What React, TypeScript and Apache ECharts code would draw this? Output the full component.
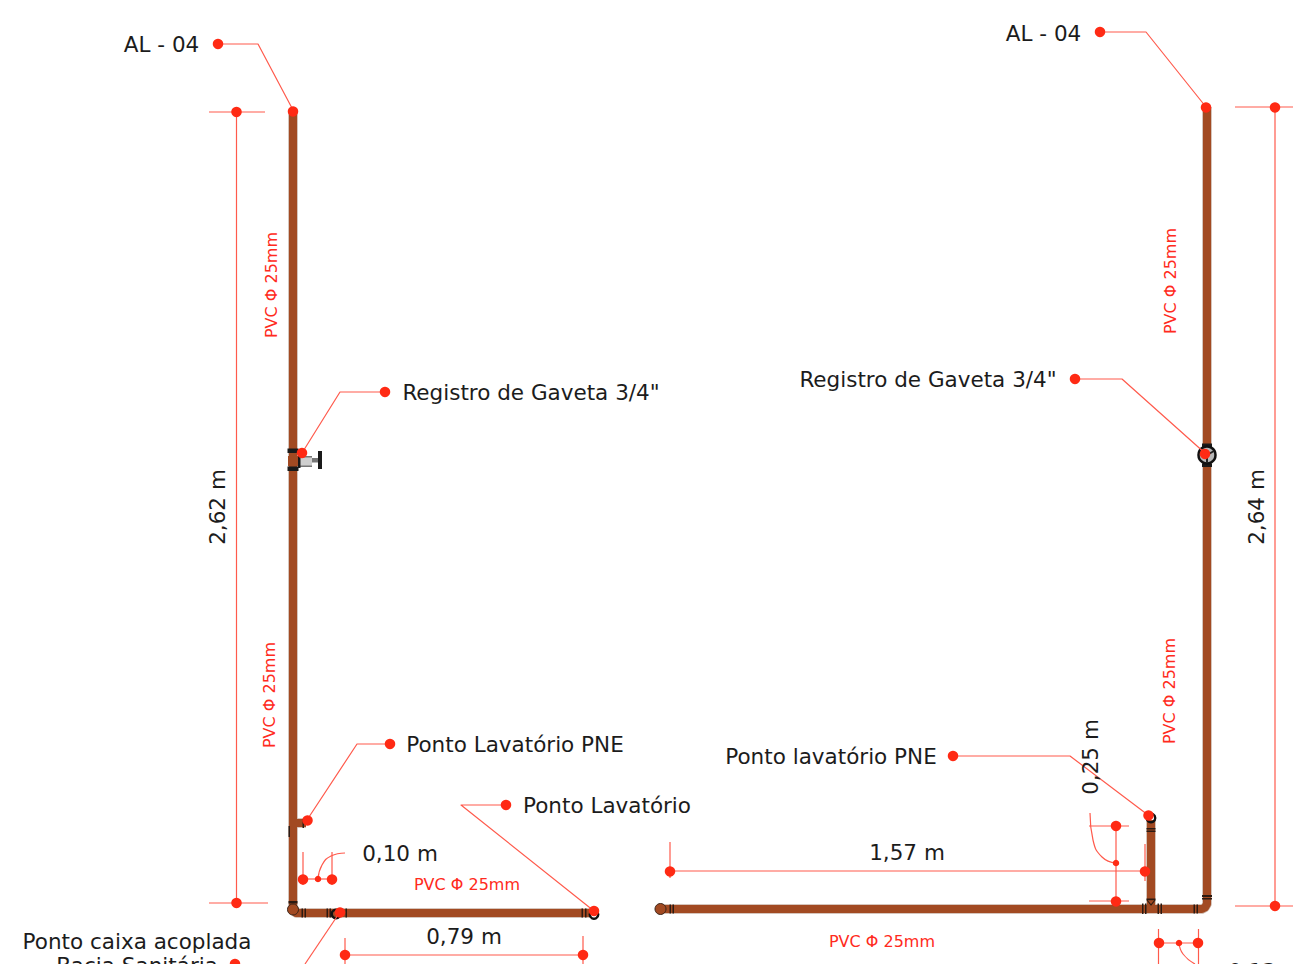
import React, { useEffect, useRef } from "react";
import * as echarts from "echarts";

const WIDTH = 1293;
const HEIGHT = 964;

type P = [number, number];

const pipes: P[][] = [
  [[293, 112], [293, 910], [296, 913], [590, 913]],
  [[293, 823], [306, 823]],
  [[663, 909], [1202, 909], [1205, 907.5], [1207, 904], [1207, 107]],
  [[1151, 909], [1151, 820]],
];

const fittings: number[][] = [
  [288.5, 901, 297.5, 903.5],
  [301.5, 908.5, 303, 917.5],
  [304.5, 908.5, 306, 917.5],
  [326.5, 908.5, 328, 917.5],
  [329.5, 908.5, 331, 917.5],
  [345.5, 908.5, 347, 917.5],
  [581.5, 908.5, 583, 917.5],
  [585, 908.5, 586.5, 917.5],
  [288.5, 826, 290, 837],
  [302.5, 819, 304, 828],
  [669.5, 904.5, 671, 913.5],
  [672.5, 904.5, 674, 913.5],
  [1193.5, 904.5, 1195, 913.5],
  [1196.5, 904.5, 1198, 913.5],
  [1142, 903.5, 1143.5, 914],
  [1145, 903.5, 1146.5, 914],
  [1157.5, 903.5, 1159, 914],
  [1160.5, 903.5, 1162, 914],
  [1202, 895, 1212, 897],
  [1202, 898, 1212, 899.5],
  [1146.5, 828, 1155.5, 829.5],
  [1146.5, 830.5, 1155.5, 832],
  [1146.5, 898.5, 1155.5, 900.2],
];

const valveDark: number[][] = [
  [287.5, 448.5, 298.5, 453],
  [287.5, 466.5, 298.5, 471],
  [298, 456, 300.5, 468],
  [318, 451, 322, 469],
  [1202, 443.5, 1212, 447],
  [1202, 463.5, 1212, 467],
];
const valveBrown: number[][] = [[288, 456, 299, 466]];
const valveGray: number[][] = [[300, 456, 312, 467]];
const valveStem: number[][] = [
  [300, 456, 312, 457.5],
  [300, 465.5, 312, 467],
  [312, 458, 318, 462.5],
];

const smallRings: P[] = [[336, 914], [594, 914.5], [1151, 818]];
const wheelRings: P[] = [[1207, 455]];
const pipeCaps: P[] = [[660.5, 909], [293, 909.5]];
const teeMark: P[] = [[1147, 900], [1151, 905], [1155, 900]];
const wheelSpokes: P[][] = [
  [[1207, 455], [1200, 451]],
  [[1207, 455], [1214, 451]],
  [[1207, 455], [1207, 463]],
];

const leaders: P[][] = [
  [[218, 44], [258, 44], [293, 110]],
  [[385, 392], [340, 392], [302, 453]],
  [[390, 744], [357, 744], [307, 820]],
  [[506, 805], [461, 805], [594, 911]],
  [[340, 912], [305, 964]],
  [[1100, 32], [1146, 32], [1206, 107]],
  [[1075, 379], [1122, 379], [1206, 454]],
  [[953, 756], [1070, 756], [1148, 815]],
];

const dimensionLines: P[][] = [
  [[236.5, 112], [236.5, 903]],
  [[209, 112], [265, 112]],
  [[209, 903], [268, 903]],
  [[345, 955], [583, 955]],
  [[345, 938], [345, 964]],
  [[583, 936], [583, 964]],
  [[303, 879], [332, 879]],
  [[303, 852], [303, 885]],
  [[332, 852], [332, 885]],
  [[1275, 107], [1275, 906]],
  [[1235, 107], [1293, 107]],
  [[1235, 906], [1293, 906]],
  [[670, 871], [1145, 871]],
  [[670, 842], [670, 878]],
  [[1145, 844], [1145, 881]],
  [[1116, 826], [1116, 901]],
  [[1089, 826], [1129, 826]],
  [[1089, 901], [1129, 901]],
  [[1159, 943], [1198, 943]],
  [[1158.5, 929], [1158.5, 964]],
  [[1198.5, 929], [1198.5, 964]],
];

const dimensionCurves: P[][] = [
  [[318, 879], [322, 865], [331, 856], [345, 853]],
  [[1090, 813], [1093, 840], [1102, 857], [1116, 863]],
  [[1179, 943], [1183, 954], [1195, 964]],
];

const largeDots: P[] = [
  [218, 44], [293, 111.5], [385, 392], [302, 453], [390, 744], [307.5, 820.5],
  [506, 805], [594, 911], [340, 912.5], [235, 964], [1100, 32], [1206, 107.5],
  [1075, 379], [1205, 454], [953, 756], [1148.5, 815.5],
  [236.5, 112], [236.5, 903], [345, 955], [583, 955], [303, 879.5], [332, 879.5],
  [1275, 107.5], [1275, 906], [670, 871.5], [1145, 871.5], [1116, 826], [1116, 901.5],
  [1159, 943], [1198, 943],
];
const smallDots: P[] = [[318, 879], [1116, 863], [1179, 943]];

const blackLabels: [number, number, string][] = [
  [161.5, 44, "AL - 04"],
  [1043.5, 33, "AL - 04"],
  [531, 392, 'Registro de Gaveta 3/4"'],
  [928, 379, 'Registro de Gaveta 3/4"'],
  [515, 744, "Ponto Lavatório PNE"],
  [831, 756, "Ponto lavatório PNE"],
  [607, 805, "Ponto Lavatório"],
  [137, 941, "Ponto caixa acoplada"],
  [137, 965, "Bacia Sanitária"],
  [400, 853, "0,10 m"],
  [464, 936, "0,79 m"],
  [907, 852, "1,57 m"],
  [1266, 971, "0,13 m"],
];
const blackRotatedLabels: [number, number, string][] = [
  [217, 507, "2,62 m"],
  [1256, 507, "2,64 m"],
  [1090, 757, "0,25 m"],
];
const redLabels: [number, number, string][] = [
  [467, 884, "PVC Φ 25mm"],
  [882, 941, "PVC Φ 25mm"],
];
const redRotatedLabels: [number, number, string][] = [
  [271, 285, "PVC Φ 25mm"],
  [269, 695, "PVC Φ 25mm"],
  [1170, 281, "PVC Φ 25mm"],
  [1169, 691, "PVC Φ 25mm"],
];

const RED = "#ff2a14";
const LINE_RED = "#ff5a4c";
const PIPE = "#a24a22";
const FONT = "'DejaVu Sans'";

const polyline = (data: P[], color: string, width: number, z: number) => ({
  type: "line",
  data,
  symbol: "none",
  silent: true,
  z,
  clip: false,
  lineStyle: { color, width, join: "round", cap: "butt" },
});

const boxes = (data: number[][], fill: string, z: number) => ({
  type: "custom",
  data,
  silent: true,
  z,
  clip: false,
  encode: { x: [0, 2], y: [1, 3] },
  renderItem: (_: unknown, api: any) => {
    const a = api.coord([api.value(0), api.value(1)]);
    const b = api.coord([api.value(2), api.value(3)]);
    return {
      type: "rect",
      shape: { x: a[0], y: a[1], width: b[0] - a[0], height: b[1] - a[1] },
      style: { fill },
    };
  },
});

const circles = (
  data: P[],
  size: number,
  color: string,
  borderColor: string,
  borderWidth: number,
  z: number,
) => ({
  type: "scatter",
  data,
  symbolSize: size,
  silent: true,
  z,
  clip: false,
  itemStyle: { color, borderColor, borderWidth, opacity: 1 },
});

const labels = (
  data: [number, number, string][],
  color: string,
  fontSize: number,
  rotate: number,
) => ({
  type: "scatter",
  data,
  symbolSize: 0,
  silent: true,
  z: 20,
  clip: false,
  itemStyle: { opacity: 1 },
  label: {
    show: true,
    position: "inside",
    formatter: (p: any) => p.value[2],
    color,
    fontSize,
    fontFamily: FONT,
    rotate,
    align: "center",
    verticalAlign: "middle",
  },
});

export default function App() {
  const ref = useRef<HTMLDivElement>(null);

  useEffect(() => {
    const chart = echarts.init(ref.current!, undefined, { renderer: "svg" });
    chart.setOption({
      animation: false,
      backgroundColor: "#ffffff",
      grid: { left: 0, right: 0, top: 0, bottom: 0 },
      xAxis: { type: "value", min: 0, max: WIDTH, show: false },
      yAxis: { type: "value", min: 0, max: HEIGHT, inverse: true, show: false },
      series: [
        ...pipes.map((p) => polyline(p, "#c9b3a6", 9.5, 1)),
        ...pipes.map((p) => polyline(p, PIPE, 8, 2)),
        circles(pipeCaps, 11, PIPE, "#3a2418", 1, 3),
        boxes(fittings, "#2b1a12", 4),
        boxes(valveBrown, PIPE, 4),
        boxes(valveGray, "#cfcfcf", 4),
        boxes(valveStem, "#777777", 5),
        boxes(valveDark, "#1a1a1a", 5),
        circles(smallRings, 8.5, "rgba(0,0,0,0)", "#111111", 2.4, 5),
        circles(wheelRings, 17, "#b8b8b8", "#111111", 2.5, 5),
        ...wheelSpokes.map((p) => polyline(p, "#222222", 2, 6)),
        polyline(teeMark, "#2b1a12", 1.2, 6),
        ...leaders.map((p) => polyline(p, LINE_RED, 1.2, 8)),
        ...dimensionLines.map((p) => polyline(p, LINE_RED, 1.2, 8)),
        ...dimensionCurves.map((p) => ({
          ...polyline(p, LINE_RED, 1.2, 8),
          smooth: 0.5,
        })),
        circles(largeDots, 10.5, RED, RED, 0, 10),
        circles(smallDots, 6.5, RED, RED, 0, 10),
        labels(blackLabels, "#1c1c1c", 21.5, 0),
        labels(blackRotatedLabels, "#1c1c1c", 21.5, 90),
        labels(redLabels, "#ff2a20", 16, 0),
        labels(redRotatedLabels, "#ff2a20", 16, 90),
      ],
    });
    return () => chart.dispose();
  }, []);

  return (
    <div
      ref={ref}
      style={{ position: "fixed", left: 0, top: 0, width: WIDTH, height: HEIGHT }}
    />
  );
}
